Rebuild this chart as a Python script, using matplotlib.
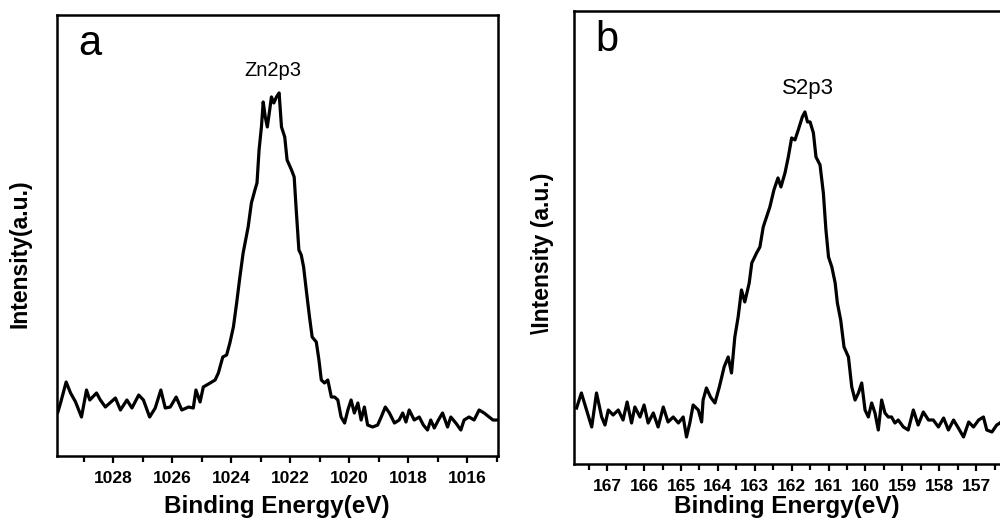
import matplotlib
matplotlib.use("Agg")
from matplotlib import pyplot as plt
from matplotlib.ticker import MultipleLocator

plt.rcParams['font.family'] = ['Liberation Sans', 'DejaVu Sans']

# panel a: Zn 2p3 spectrum (binding energy in eV, intensity in a.u.)
zn_energy = [1029.87, 1029.78, 1029.59, 1029.44, 1029.27, 1029.07, 1028.90, 1028.79, 1028.56, 1028.43,
             1028.26, 1027.92, 1027.75, 1027.53, 1027.36, 1027.13, 1026.97, 1026.76, 1026.57, 1026.38,
             1026.23, 1026.06, 1025.86, 1025.67, 1025.44, 1025.28, 1025.19, 1025.05, 1024.94, 1024.71,
             1024.54, 1024.43, 1024.28, 1024.15, 1024.04, 1023.92, 1023.81, 1023.70, 1023.59, 1023.42,
             1023.31, 1023.19, 1023.12, 1023.05, 1022.97, 1022.91, 1022.84, 1022.77, 1022.69, 1022.63,
             1022.55, 1022.46, 1022.37, 1022.29, 1022.18, 1022.10, 1021.95, 1021.86, 1021.79, 1021.70,
             1021.62, 1021.54, 1021.45, 1021.34, 1021.25, 1021.11, 1021.02, 1020.94, 1020.83, 1020.72,
             1020.60, 1020.49, 1020.38, 1020.27, 1020.15, 1020.04, 1019.93, 1019.82, 1019.70, 1019.59,
             1019.48, 1019.37, 1019.20, 1019.03, 1018.91, 1018.77, 1018.63, 1018.46, 1018.30, 1018.18,
             1018.07, 1017.96, 1017.79, 1017.62, 1017.48, 1017.34, 1017.23, 1017.11, 1016.97, 1016.83,
             1016.66, 1016.55, 1016.38, 1016.21, 1016.10, 1015.93, 1015.76, 1015.59, 1015.42, 1015.25,
             1015.12, 1015.00]
zn_intensity = [44, 53, 74, 63, 54, 39, 66, 56, 63, 56,
                49, 58, 46, 56, 48, 61, 56, 39, 48, 66,
                48, 49, 59, 46, 49, 48, 66, 54, 69, 73,
                76, 83, 99, 101, 113, 129, 153, 179, 203, 229,
                253, 266, 273, 306, 329, 354, 339, 329, 346, 359,
                353, 359, 363, 329, 319, 296, 286, 279, 246, 206,
                201, 189, 166, 139, 119, 114, 96, 76, 73, 76,
                59, 59, 56, 39, 33, 46, 56, 43, 53, 36,
                49, 31, 29, 31, 39, 49, 43, 33, 36, 43,
                34, 46, 36, 39, 31, 26, 36, 28, 36, 43,
                29, 39, 33, 26, 36, 39, 36, 46, 43, 39,
                36, 36]

# panel b: S 2p3 spectrum
s_energy = [167.83, 167.70, 167.56, 167.42, 167.29, 167.15, 167.06, 166.97, 166.84, 166.70,
            166.57, 166.46, 166.34, 166.25, 166.11, 166.00, 165.89, 165.75, 165.62, 165.48,
            165.35, 165.21, 165.07, 164.94, 164.85, 164.76, 164.67, 164.53, 164.44, 164.40,
            164.31, 164.20, 164.08, 163.96, 163.83, 163.72, 163.63, 163.54, 163.45, 163.36,
            163.27, 163.15, 163.08, 162.95, 162.86, 162.77, 162.68, 162.59, 162.48, 162.37,
            162.29, 162.18, 162.09, 162.00, 161.91, 161.82, 161.71, 161.64, 161.57, 161.50,
            161.41, 161.34, 161.23, 161.14, 161.07, 161.00, 160.91, 160.82, 160.76, 160.67,
            160.58, 160.46, 160.37, 160.28, 160.19, 160.10, 160.01, 159.92, 159.83, 159.74,
            159.65, 159.56, 159.47, 159.38, 159.29, 159.20, 159.11, 158.97, 158.84, 158.70,
            158.57, 158.43, 158.29, 158.16, 158.02, 157.88, 157.75, 157.61, 157.48, 157.34,
            157.20, 157.07, 156.93, 156.80, 156.71, 156.57, 156.44, 156.35, 156.25, 156.15]
s_intensity = [56, 71, 54, 37, 71, 47, 39, 54, 49, 54,
               44, 62, 41, 57, 47, 59, 41, 51, 37, 57,
               42, 47, 41, 47, 27, 41, 59, 54, 42, 64,
               76, 67, 61, 77, 97, 107, 91, 127, 147, 174,
               162, 181, 201, 211, 217, 237, 247, 257, 274, 286,
               277, 291, 307, 326, 324, 334, 347, 352, 342, 342,
               331, 307, 299, 271, 234, 207, 197, 181, 161, 144,
               117, 107, 77, 64, 71, 81, 54, 47, 61, 51,
               34, 64, 51, 47, 47, 41, 44, 37, 34, 54,
               39, 52, 44, 44, 37, 46, 34, 44, 36, 27,
               42, 37, 44, 47, 34, 32, 39, 41, 45, 38]

fig = plt.figure(figsize=(10, 5.22), dpi=100)
ax1 = fig.add_axes([0.057, 0.1264, 0.441, 0.845])
ax2 = fig.add_axes([0.574, 0.1111, 0.436, 0.868])

panels = [
    (ax1, zn_energy, zn_intensity, (1029.9, 1014.95), 441, 2, 1,
     'Intensity(a.u.)', -0.058, 0.458, 0.499, -0.089,
     'Zn2p3', 1022.58, 385, 'a', 14.5),
    (ax2, s_energy, s_intensity, (167.9, 156.08), 453, 1, 0.5,
     '\\Intensity (a.u.)', -0.045, 0.466, 0.489, -0.069,
     'S2p3', 161.56, 375, 'b', 16),
]

for ax, x, y, xlim, ytop, major, minor, ylab, lx, ly, bx, by, name, nx, ny, letter, nsize in panels:
    ax.plot(x, y, color='black', lw=2.3)
    ax.set_xlim(*xlim)
    ax.set_ylim(0, ytop)
    ax.xaxis.set_major_locator(MultipleLocator(major))
    ax.xaxis.set_minor_locator(MultipleLocator(minor))
    ax.set_yticks([])
    ax.tick_params(axis='x', which='major', direction='out', length=5, width=1.6, pad=6,
                   labelsize=12.5)
    ax.tick_params(axis='x', which='minor', direction='out', length=4, width=1.6)
    for lab in ax.get_xticklabels():
        lab.set_fontweight('bold')
    for sp in ax.spines.values():
        sp.set_linewidth(1.8)
    ax.set_xlabel('Binding Energy(eV)', fontsize=17.5, fontweight='bold')
    ax.xaxis.set_label_coords(bx, by)
    ax.set_ylabel(ylab, fontsize=16.5, fontweight='bold')
    ax.yaxis.set_label_coords(lx, ly)
    ax.text(nx, ny, name, fontsize=nsize, ha='center', va='center')
    ax.text(0.075, 0.935, letter, transform=ax.transAxes, fontsize=30, ha='center', va='center')

fig.savefig('out.png', dpi=100)
